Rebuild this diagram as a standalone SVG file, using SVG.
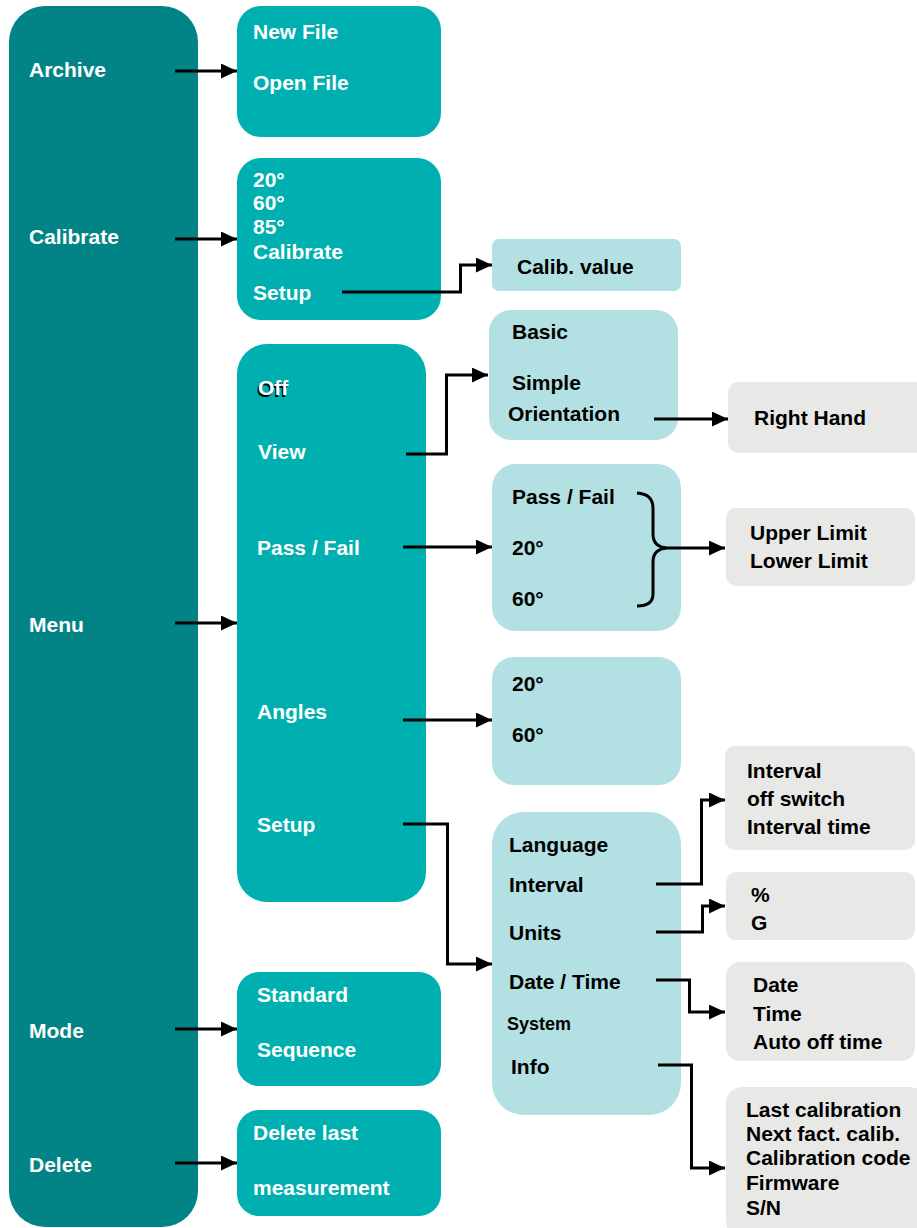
<svg xmlns="http://www.w3.org/2000/svg" width="917" height="1228" viewBox="0 0 917 1228">
<defs>
<marker id="ah" markerUnits="userSpaceOnUse" markerWidth="16" markerHeight="15" refX="16" refY="7.5" orient="auto">
<path d="M0,0 L16,7.5 L0,15 Z" fill="#000"/>
</marker>
<style>
text{font-family:"Liberation Sans",Arial,sans-serif;font-weight:bold;font-size:21px}
.w{fill:#fff}
.k{fill:#000}
.dark{fill:#028487}
.mid{fill:#00b0b0}
.light{fill:#b3e0e2}
.gray{fill:#e8e8e6}
.c{fill:none;stroke:#000;stroke-width:3;marker-end:url(#ah)}
</style>
</defs>
<rect width="917" height="1228" fill="#fff"/>

<g id="main">
<rect class="dark" x="9" y="6" width="189" height="1221" rx="36"/>
<text class="w" x="29" y="77">Archive</text>
<text class="w" x="29" y="244">Calibrate</text>
<text class="w" x="29" y="632">Menu</text>
<text class="w" x="29" y="1038">Mode</text>
<text class="w" x="29" y="1172">Delete</text>
</g>

<g id="archive">
<rect class="mid" x="237" y="6" width="204" height="131" rx="24"/>
<text class="w" x="253" y="39">New File</text>
<text class="w" x="253" y="90">Open File</text>
</g>

<g id="calibrate">
<rect class="mid" x="237" y="158" width="204" height="162" rx="24"/>
<text class="w" x="253" y="187">20°</text>
<text class="w" x="253" y="210">60°</text>
<text class="w" x="253" y="234">85°</text>
<text class="w" x="253" y="259">Calibrate</text>
<text class="w" x="253" y="300">Setup</text>
</g>

<g id="menu">
<rect class="mid" x="237" y="344" width="189" height="558" rx="30"/>
<text class="k" x="256.8" y="396.8">Off</text>
<text class="w" x="258" y="395">Off</text>
<text class="w" x="258" y="459">View</text>
<text class="w" x="257" y="555">Pass / Fail</text>
<text class="w" x="257" y="719">Angles</text>
<text class="w" x="257" y="832">Setup</text>
</g>

<g id="mode">
<rect class="mid" x="237" y="972" width="204" height="114" rx="22"/>
<text class="w" x="257" y="1002">Standard</text>
<text class="w" x="257" y="1057">Sequence</text>
</g>

<g id="delete">
<rect class="mid" x="237" y="1110" width="204" height="106" rx="22"/>
<text class="w" x="253" y="1140">Delete last</text>
<text class="w" x="253" y="1195">measurement</text>
</g>

<g id="calibvalue">
<rect class="light" x="492" y="239" width="189" height="52" rx="7"/>
<text class="k" x="517" y="274">Calib. value</text>
</g>

<g id="view">
<rect class="light" x="489" y="310" width="189" height="130" rx="22"/>
<text class="k" x="512" y="339">Basic</text>
<text class="k" x="512" y="390">Simple</text>
<text class="k" x="508" y="421">Orientation</text>
</g>

<g id="righthand">
<rect class="gray" x="728" y="382" width="200" height="71" rx="10"/>
<text class="k" x="754" y="425">Right Hand</text>
</g>

<g id="passfail">
<rect class="light" x="492" y="464" width="189" height="167" rx="24"/>
<text class="k" x="512" y="504">Pass / Fail</text>
<text class="k" x="512" y="555">20°</text>
<text class="k" x="512" y="606">60°</text>
</g>

<g id="limits">
<rect class="gray" x="726" y="508" width="189" height="78" rx="10"/>
<text class="k" x="750" y="540">Upper Limit</text>
<text class="k" x="750" y="568">Lower Limit</text>
</g>

<g id="angles">
<rect class="light" x="492" y="657" width="189" height="128" rx="22"/>
<text class="k" x="512" y="691">20°</text>
<text class="k" x="512" y="742">60°</text>
</g>

<g id="setup">
<rect class="light" x="492" y="812" width="189" height="303" rx="32"/>
<text class="k" x="509" y="852">Language</text>
<text class="k" x="509" y="892">Interval</text>
<text class="k" x="509" y="940">Units</text>
<text class="k" x="509" y="989">Date / Time</text>
<text class="k" x="507" y="1030" style="font-size:18px">System</text>
<text class="k" x="511" y="1074">Info</text>
</g>

<g id="interval">
<rect class="gray" x="725" y="746" width="190" height="104" rx="10"/>
<text class="k" x="747" y="778">Interval</text>
<text class="k" x="747" y="806">off switch</text>
<text class="k" x="747" y="834">Interval time</text>
</g>

<g id="units">
<rect class="gray" x="726" y="872" width="189" height="68" rx="10"/>
<text class="k" x="751" y="902">%</text>
<text class="k" x="751" y="930">G</text>
</g>

<g id="datetime">
<rect class="gray" x="726" y="962" width="189" height="99" rx="14"/>
<text class="k" x="753" y="992">Date</text>
<text class="k" x="753" y="1021">Time</text>
<text class="k" x="753" y="1049">Auto off time</text>
</g>

<g id="info">
<rect class="gray" x="726" y="1087" width="200" height="150" rx="16"/>
<text class="k" x="746" y="1117">Last calibration</text>
<text class="k" x="746" y="1141">Next fact. calib.</text>
<text class="k" x="746" y="1165">Calibration code</text>
<text class="k" x="746" y="1190">Firmware</text>
<text class="k" x="746" y="1215">S/N</text>
</g>

<g id="connectors">
<path class="c" d="M175,71 H237"/>
<path class="c" d="M175,239 H237"/>
<path class="c" d="M175,623 H237"/>
<path class="c" d="M175,1029 H237"/>
<path class="c" d="M175,1163 H237"/>
<path class="c" d="M342,292 H460.5 V265 H492"/>
<path class="c" d="M406,454 H446.5 V375 H488"/>
<path class="c" d="M654,419 H728"/>
<path class="c" d="M403,547 H492"/>
<path d="M637,493 Q653,494 653,508 V534 Q653,547 667,548 Q653,549 653,562 V594 Q653,606 637,606" fill="none" stroke="#000" stroke-width="3"/>
<path class="c" d="M667,548 H725"/>
<path class="c" d="M403,720 H492"/>
<path class="c" d="M403,824 H447.5 V964 H492"/>
<path class="c" d="M656,884 H701.5 V800 H725"/>
<path class="c" d="M656,932 H702.5 V906 H725"/>
<path class="c" d="M656,980 H689.5 V1012 H725"/>
<path class="c" d="M658,1065 H691.5 V1168 H725"/>
</g>
</svg>
